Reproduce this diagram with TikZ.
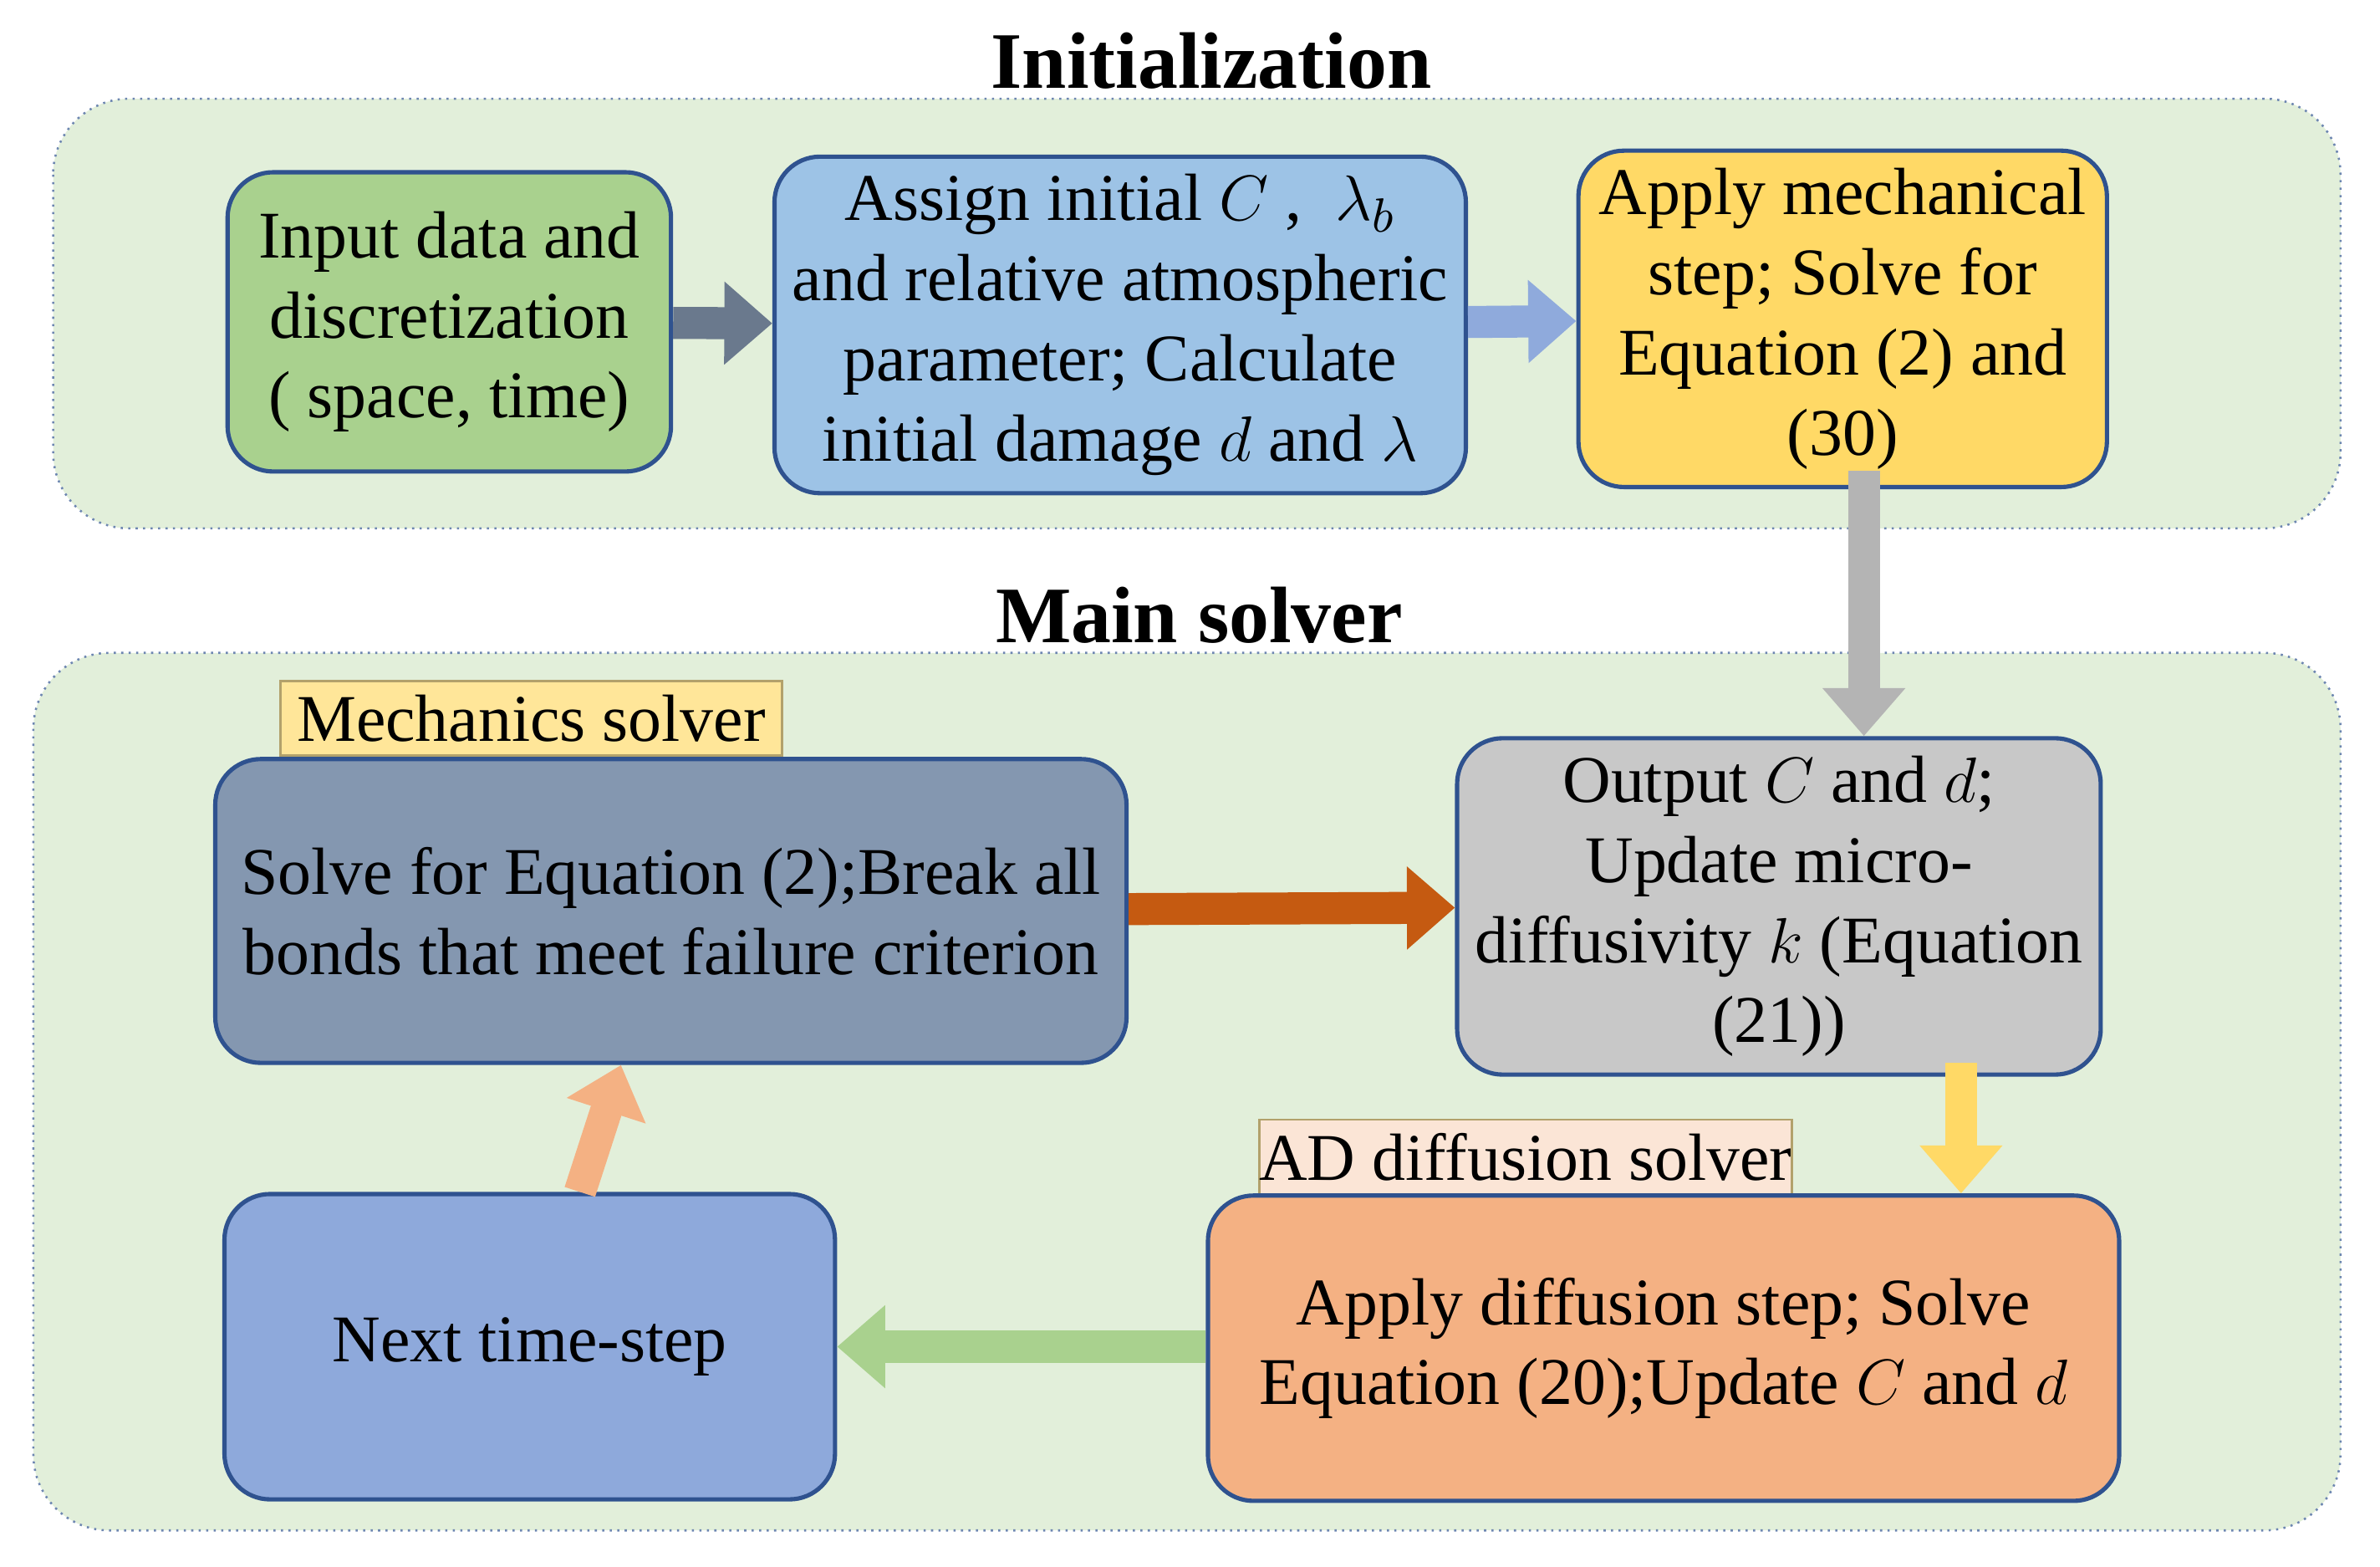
\documentclass[tikz,border=0pt]{standalone}
\usepackage{fontspec}
\setmainfont{Liberation Serif}
\usetikzlibrary{arrows.meta}
\definecolor{zonebg}{RGB}{226,239,218}
\definecolor{inputc}{RGB}{169,209,142}
\definecolor{assignc}{RGB}{157,195,230}
\definecolor{applyc}{RGB}{255,217,102}
\definecolor{mechc}{RGB}{132,151,176}
\definecolor{outc}{RGB}{200,200,200}
\definecolor{adc}{RGB}{244,177,131}
\definecolor{nextc}{RGB}{142,169,219}
\definecolor{mlab}{RGB}{255,230,153}
\definecolor{alab}{RGB}{251,229,214}
\definecolor{edgec}{RGB}{47,82,143}
\definecolor{redarr}{RGB}{197,90,17}
\definecolor{bluearr}{RGB}{143,170,220}
\definecolor{grayarr}{RGB}{180,180,180}
\tikzset{
  zone/.style={draw=edgec!70, densely dotted, fill=zonebg, rounded corners=0.5cm},
  stage/.style={draw=edgec, thick, rounded corners=0.3cm, align=center,
    font=\fontsize{12.5}{15}\selectfont},
  tag/.style={draw=mlab!70!black, thin, font=\fontsize{12.5}{15}\selectfont, inner sep=0pt},
  title/.style={font=\bfseries\fontsize{15}{18}\selectfont},
  block/.style={line width=6pt, -{Triangle[width=15pt,length=9pt]}}
}
\begin{document}
\begin{tikzpicture}[x=0.01cm,y=-0.01cm]
	\useasboundingbox (0,0) rectangle (1568,1032);

	\draw[zone] (35,65) rectangle (1542,348);
	\node[title] (tinit) at (798,40) {Initialization};
	\draw[zone] (22,430) rectangle (1542,1008);
	\node[title] (tmain) at (790,405) {Main solver};

	\node[stage, fill=inputc, minimum width=2.92cm, minimum height=1.97cm] (input) at (296,212)
		{Input data and\\discretization\\( space, time)};
	\node[stage, fill=assignc, minimum width=3.87cm, minimum height=1.95cm] (assign) at (738,214)
		{Assign initial $C$ ,\enspace $\lambda_b$\\and relative atmospheric\\parameter; Calculate\\initial damage $d$ and $\lambda$};
	\node[stage, fill=applyc, minimum width=3.48cm, minimum height=1.96cm] (apply) at (1214,210)
		{Apply mechanical\\step; Solve for\\Equation (2) and\\(30)};

	\node[tag, fill=mlab, minimum width=3.3cm, minimum height=0.49cm] (mtag) at (350,473) {Mechanics solver};
	\node[stage, fill=mechc, minimum width=6cm, minimum height=2cm] (mech) at (442,600)
		{Solve for Equation (2);Break all\\bonds that meet failure criterion};
	\node[stage, fill=outc, minimum width=4.01cm, minimum height=2.02cm] (output) at (1172,597)
		{Output $C$ and $d$;\\Update micro-\\diffusivity $k$ (Equation\\(21))};

	\node[tag, fill=alab, minimum width=3.3cm, minimum height=0.49cm] (atag) at (1005,762) {AD diffusion solver};
	\node[stage, fill=adc, minimum width=6cm, minimum height=2.01cm] (ad) at (1096,888)
		{Apply diffusion step; Solve\\Equation (20);Update $C$ and $d$};
	\node[stage, fill=nextc, minimum width=4.02cm, minimum height=2.01cm] (next) at (349,887)
		{Next time-step};

	\draw[block, mechc!80!black] (input) -- (assign);
	\draw[block, bluearr] (assign) -- (apply);
	\coordinate (cdown) at (1228,310);
	\draw[block, grayarr] (cdown) -- (cdown |- output.north);
	\draw[block, redarr] (mech) -- (output);
	\coordinate (ydown) at (1292,700);
	\draw[block, applyc] (ydown) -- (ydown |- ad.north);
	\draw[block, inputc] (ad.west |- next) -- (next);
	\draw[block, adc] (next) -- (mech);

\end{tikzpicture}
\end{document}
